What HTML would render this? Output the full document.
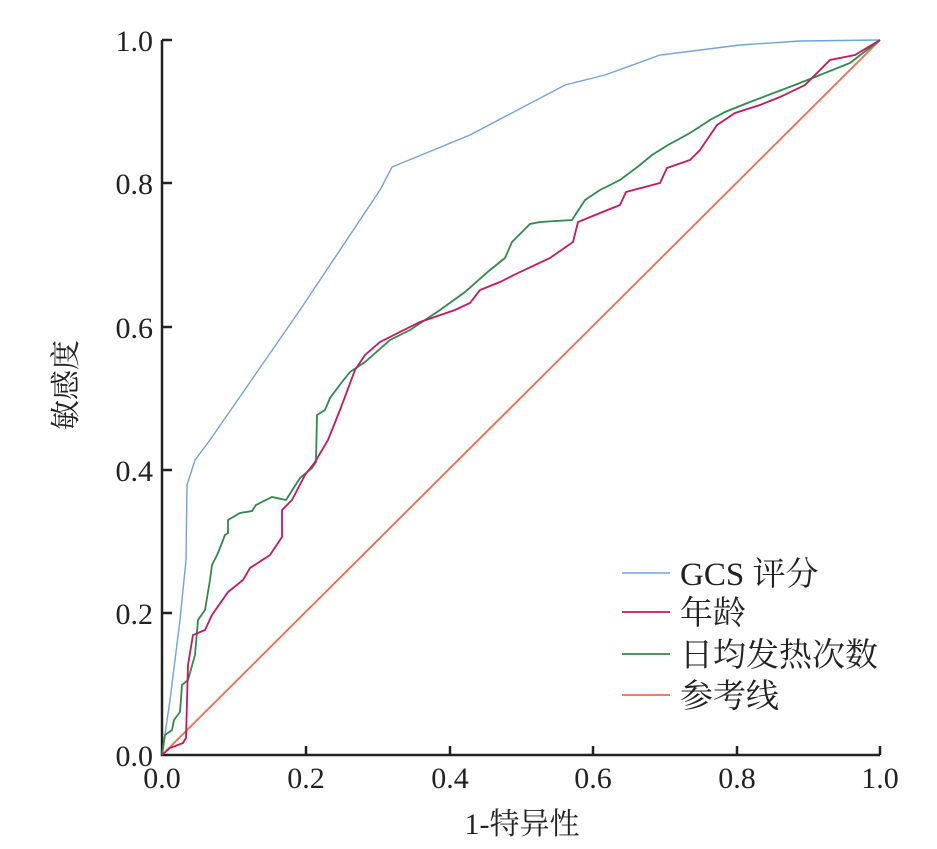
<!DOCTYPE html>
<html><head><meta charset="utf-8"><style>body{margin:0;background:#fff}</style></head><body>
<svg width="937" height="844" xmlns="http://www.w3.org/2000/svg" font-family="Liberation Serif, Noto Serif CJK SC, serif" font-size="30" fill="#222">
<g stroke="#222" stroke-width="2.5" fill="none">
<path d="M162,40 V755 H880"/>
<path d="M162,40h10M162,183h10M162,327h10M162,470h10M162,613h10M306,755v-9M450,755v-9M593,755v-9M737,755v-9M880,755v-9"/>
</g>
<g text-anchor="end"><text x="153" y="51">1.0</text><text x="153" y="194">0.8</text><text x="153" y="338">0.6</text><text x="153" y="481">0.4</text><text x="153" y="624">0.2</text><text x="153" y="766">0.0</text></g>
<g text-anchor="middle"><text x="162" y="788">0.0</text><text x="306" y="788">0.2</text><text x="450" y="788">0.4</text><text x="593" y="788">0.6</text><text x="737" y="788">0.8</text><text x="880" y="788">1.0</text>
<text x="522" y="834">1-特异性</text>
<text transform="translate(76,385) rotate(-90)">敏感度</text></g>
<g fill="none" stroke-width="1.8">
<path stroke="#f26b4c" d="M162,755 L880,40"/>
<path stroke="#6fa3e0" stroke-width="1.4" d="M162,755 L170,700 180,620 186,560 187,485 195,460 210,440 300,310 380,190 392,167 470,135 565,85 605,75 660,55 740,45 800,41 880,40"/>
<path stroke="#2e8b4a" d="M162,755 L165,735 172,730 174,720 180,712 182,685 188,680 195,655 198,620 205,610 210,580 212,565 218,553 225,535 228,533 228,520 240,513 252,511 256,505 272,497 286,500 300,478 312,468 316,462 317,415 325,410 330,398 342,382 350,372 365,362 390,340 410,330 440,310 465,292 490,270 505,258 512,242 530,224 540,222 572,220 585,200 600,190 620,180 640,165 652,155 668,145 690,133 710,120 725,112 750,102 800,83 850,63 880,40"/>
<path stroke="#c8175e" d="M162,755 L170,748 183,743 186,738 188,665 193,635 205,630 212,615 228,592 243,580 250,568 270,555 282,537 282,510 292,500 305,475 315,462 328,440 340,410 355,370 365,355 380,342 420,322 455,310 470,303 480,290 500,282 520,272 550,258 573,242 578,222 600,213 620,205 626,192 660,183 667,168 690,160 700,150 717,125 735,113 760,105 780,97 805,85 820,70 830,60 855,55 880,40"/>
<path stroke="#6fa3e0" stroke-width="1.4" d="M622,573h48"/>
<path stroke="#c8175e" d="M622,612h48"/>
<path stroke="#2e8b4a" d="M622,654h48"/>
<path stroke="#f26b4c" d="M622,695h48"/>
</g>
<g font-size="33"><text x="680" y="585">GCS 评分</text><text x="680" y="624">年龄</text><text x="680" y="666">日均发热次数</text><text x="680" y="707">参考线</text></g>
</svg>
</body></html>
